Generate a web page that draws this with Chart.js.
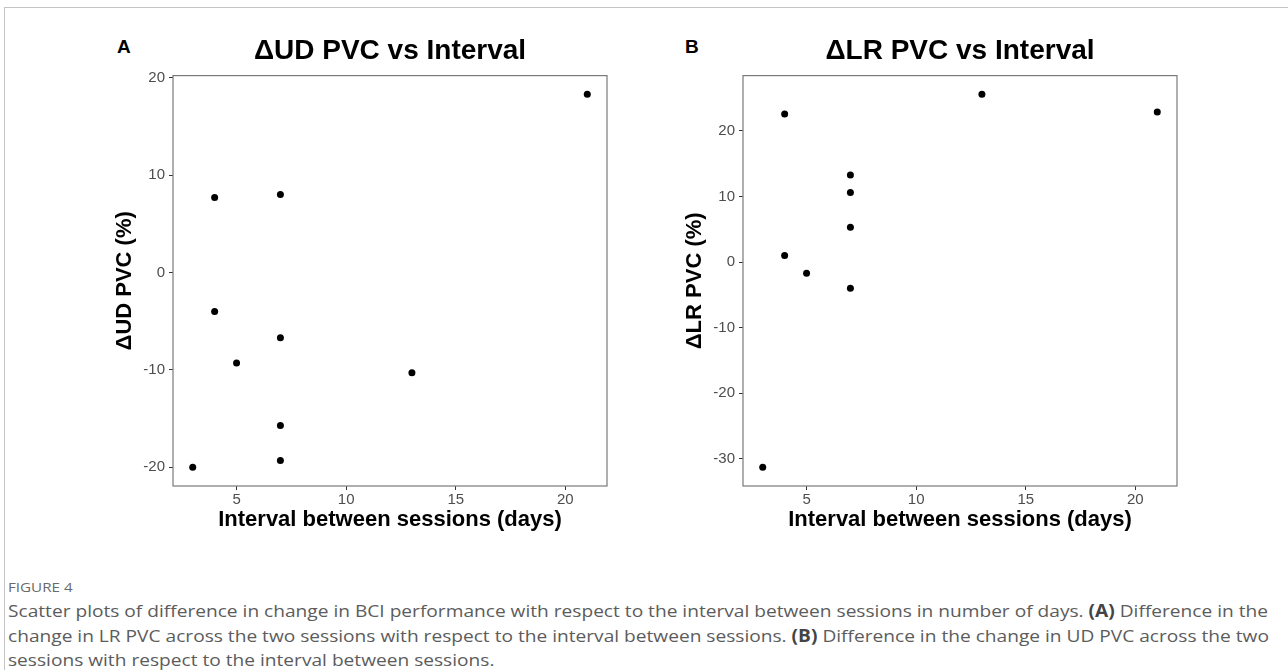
<!DOCTYPE html>
<html>
<head>
<meta charset="utf-8">
<script src="https://cdn.jsdelivr.net/npm/chart.js@4.4.1/dist/chart.umd.min.js"></script>
<style>
  html, body { margin: 0; padding: 0; background: #fff; }
  body { width: 1288px; height: 670px; position: relative; overflow: hidden; font-family: "Liberation Sans", Arial, sans-serif; }
  .frame { position: absolute; left: 4px; top: 7px; right: -2px; bottom: -2px; border-top: 1px solid #c4c4c4; border-left: 1px solid #c4c4c4; }
  .plot { position: absolute; top: 0; width: 616px; height: 546px; }
  .panel { position: absolute; font-weight: bold; font-size: 19px; color: #000; }
  .caption { position: absolute; left: 8px; top: 578px; font-family: "Open Sans", sans-serif; color: #5c5c5c; white-space: nowrap;
             transform: scaleX(1.125); transform-origin: 0 0; }
  .caption .fig { font-size: 13.5px; color: #6a6a6a; margin-bottom: 3px; }
  .caption .txt { font-size: 17px; line-height: 24.5px; }
  .caption b { color: #444; }
</style>
</head>
<body>
<div class="frame"></div>
<div class="panel" style="left:117px; top:36px;">A</div>
<div class="panel" style="left:685px; top:36px;">B</div>
<div class="plot" style="left:1px;"><canvas id="udChart" width="616" height="546"></canvas></div>
<div class="plot" style="left:571px;"><canvas id="lrChart" width="616" height="546"></canvas></div>
<div class="caption">
  <div class="fig">FIGURE 4</div>
  <div class="txt">Scatter plots of difference in change in BCI performance with respect to the interval between sessions in number of days. <b>(A)</b> Difference in the<br>change in LR PVC across the two sessions with respect to the interval between sessions. <b>(B)</b> Difference in the change in UD PVC across the two<br>sessions with respect to the interval between sessions.</div>
</div>
<script>
// interval between sessions (days)
const intervalDays = [3, 4, 4, 5, 7, 7, 7, 7, 13, 21];
const udChange = [-20.0, 7.7, -4.0, -9.3, 8.0, -6.7, -15.7, -19.3, -10.3, 18.3];

const lrDays = [3, 4, 4, 5, 7, 7, 7, 7, 13, 21];
const lrChange = [-31.3, 22.6, 1.0, -1.7, 13.3, 10.6, 5.3, -4.0, 25.6, 22.9];

const xTicks = [5, 10, 15, 20];
const udTicks = [-20, -10, 0, 10, 20];
const lrTicks = [-30, -20, -10, 0, 10, 20];

const FONT = '"Liberation Sans", Arial, sans-serif';

// ggplot-like 5% expansion of the data range
function expand(vals) {
    const lo = Math.min(...vals), hi = Math.max(...vals);
    const pad = (hi - lo) * 0.05;
    return {min: lo - pad, max: hi + pad};
}

const panelBox = {
    id: 'panelBox',
    afterDatasetsDraw(chart) {
        const {ctx, chartArea: a} = chart;
        ctx.save();
        ctx.strokeStyle = '#7a7a7a';
        ctx.lineWidth = 1.2;
        ctx.strokeRect(a.left, a.top, a.right - a.left, a.bottom - a.top);
        ctx.restore();
    }
};

function makeConfig(xs, ys, yTicks, title, yTitle) {
    const xr = expand(xs), yr = expand(ys);
    return {
        type: 'scatter',
        data: {
            datasets: [{
                data: xs.map((x, i) => ({x: x, y: ys[i]})),
                backgroundColor: '#000',
                borderWidth: 0,
                pointRadius: 3.5,
                pointHoverRadius: 3.5
            }]
        },
        options: {
            responsive: false,
            animation: false,
            layout: {padding: {left: 0, right: 10, top: 0, bottom: 0}},
            plugins: {
                legend: {display: false},
                tooltip: {enabled: false},
                title: {
                    display: true,
                    text: title,
                    fullSize: false,
                    color: '#000',
                    font: {family: FONT, size: 28, weight: 'bold'},
                    padding: {top: 34, bottom: 8}
                }
            },
            scales: {
                x: {
                    type: 'linear',
                    min: xr.min,
                    max: xr.max,
                    afterBuildTicks: s => { s.ticks = xTicks.map(v => ({value: v})); },
                    afterFit: s => { s.height = 60; },
                    grid: {display: true, drawOnChartArea: false, drawTicks: true, tickLength: 4, color: '#333', tickWidth: 1},
                    border: {display: false},
                    ticks: {color: '#4d4d4d', font: {family: FONT, size: 15}, padding: 1, maxRotation: 0},
                    title: {display: true, text: 'Interval between sessions (days)', color: '#000',
                            font: {family: FONT, size: 22, weight: 'bold'}, padding: {top: 0, bottom: 13}}
                },
                y: {
                    type: 'linear',
                    min: yr.min,
                    max: yr.max,
                    afterBuildTicks: s => { s.ticks = yTicks.map(v => ({value: v})); },
                    afterFit: s => { s.width = 172; },
                    grid: {display: true, drawOnChartArea: false, drawTicks: true, tickLength: 4, color: '#333', tickWidth: 1},
                    border: {display: false},
                    ticks: {color: '#4d4d4d', font: {family: FONT, size: 15}, padding: 4},
                    title: {display: true, text: yTitle, color: '#000',
                            font: {family: FONT, size: 22, weight: 'bold'}, padding: {top: 111, bottom: 0}}
                }
            }
        },
        plugins: [panelBox]
    };
}

new Chart(document.getElementById('udChart'),
    makeConfig(intervalDays, udChange, udTicks, 'ΔUD PVC vs Interval', 'ΔUD PVC (%)'));
new Chart(document.getElementById('lrChart'),
    makeConfig(lrDays, lrChange, lrTicks, 'ΔLR PVC vs Interval', 'ΔLR PVC (%)'));
</script>
</body>
</html>
